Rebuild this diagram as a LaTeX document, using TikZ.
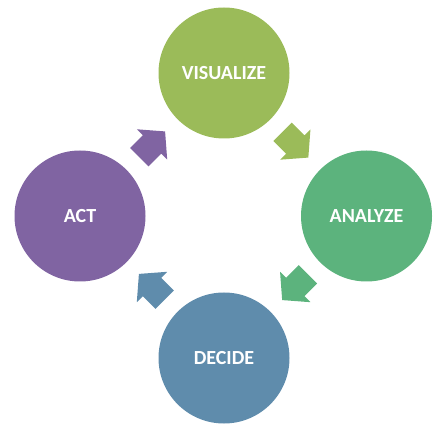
\documentclass[tikz,border=0pt]{standalone}
\usepackage{fontspec}
\setmainfont{Carlito}
\usetikzlibrary{calc}
\definecolor{cvis}{HTML}{9BBB59}
\definecolor{cana}{HTML}{5CB37D}
\definecolor{cdec}{HTML}{5F8CAC}
\definecolor{cact}{HTML}{8064A2}
\tikzset{
  stage/.style={circle, minimum size=131pt, inner sep=0pt, text=white,
    font=\fontsize{20}{24}\selectfont\bfseries},
  blockarrow/.pic={
    \path[pic actions] (-18pt,-13pt) -- (0pt,-13pt) -- (0pt,-21.5pt) -- (18.5pt,0pt)
      -- (0pt,21.5pt) -- (0pt,13pt) -- (-18pt,13pt) -- cycle;
  }
}
\begin{document}
\begin{tikzpicture}[x=1pt,y=1pt]
\useasboundingbox (0,0) rectangle (436,423);
\node[stage, fill=cvis] (vis) at (224,350) {VISUALIZE};
\node[stage, fill=cana] (ana) at (366.5,207) {ANALYZE};
\node[stage, fill=cdec] (dec) at (224,65) {DECIDE};
\node[stage, fill=cact] (act) at (80,207) {ACT};
\path ($(vis)!0.5!(ana)$) pic[rotate=-45, fill=cvis] {blockarrow};
\path ($(ana)!0.5!(dec)$) pic[rotate=-135, fill=cana] {blockarrow};
\path ($(dec)!0.5!(act)$) pic[rotate=135, fill=cdec] {blockarrow};
\path ($(act)!0.5!(vis)$) pic[rotate=45, fill=cact] {blockarrow};
\end{tikzpicture}
\end{document}
